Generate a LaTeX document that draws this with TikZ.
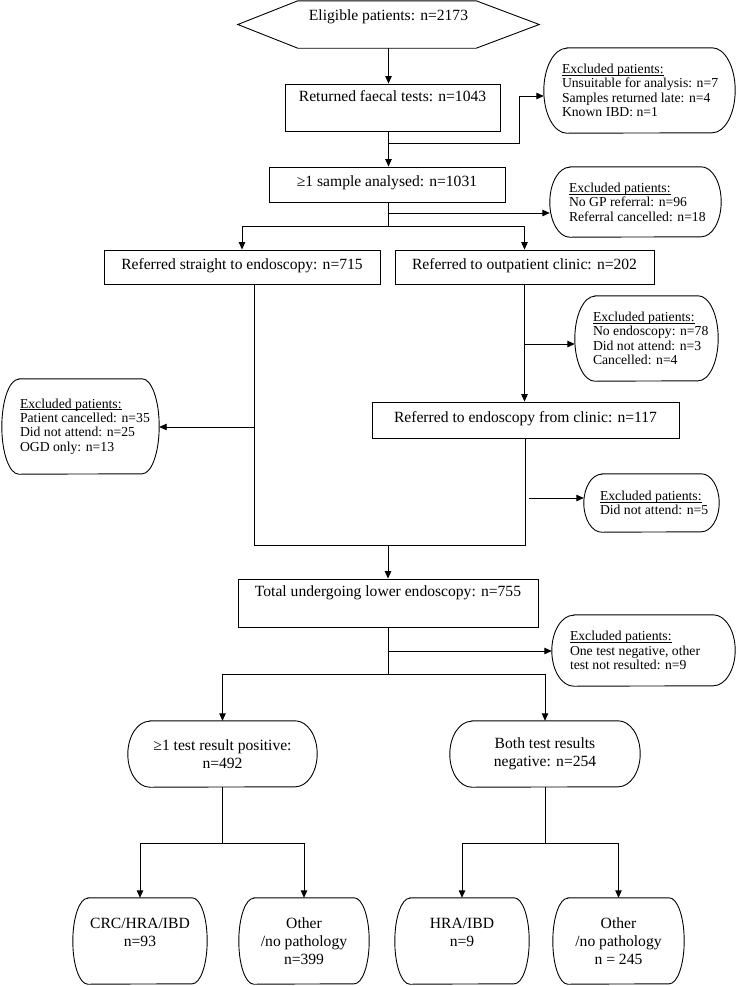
\documentclass[tikz,border=0pt]{standalone}
\usepackage{fontspec}
\setmainfont{Liberation Serif}
\usetikzlibrary{arrows.meta}
\newcommand\pillshape[3]{\draw[line width=0.9pt] ([xshift=#2]#1.north west) -- ([xshift=-#2]#1.north east)
  arc[start angle=90,end angle=-90,x radius=#2,y radius=#3]
  -- ([xshift=#2]#1.south west)
  arc[start angle=270,end angle=90,x radius=#2,y radius=#3] -- cycle;}
\newcommand\exclul[1]{\setbox0\hbox{#1}\rlap{\rule[-1.8pt]{\wd0}{0.55pt}}\box0}
\begin{document}
\begin{tikzpicture}[x=1pt,y=-1pt,
  every node/.style={font=\fontsize{15.6}{18}\selectfont, inner sep=0pt},
  rectbox/.style={draw, line width=0.9pt},
  frame/.style={draw=none},
  excltext/.style={font=\fontsize{13.7}{14.4}\selectfont, align=left, anchor=west},
  pilltext/.style={align=center},
  line/.style={line width=0.9pt},
  arr/.style={line width=0.9pt, -{Triangle[length=7.5pt,width=6.5pt]}}]
\useasboundingbox (0,0) rectangle (737,986);
\fill[white] (0,0) rectangle (737,986);

% hexagon
\node[frame, minimum width=301pt, minimum height=47pt, text height=19pt, text depth=28pt] (hex) at (388.5,24.5) {Eligible patients: n=2173};
\draw[line] (hex.west) -- ([xshift=60pt]hex.north west) -- ([xshift=-63pt]hex.north east) -- (hex.east)
  -- ([xshift=-63pt]hex.south east) -- ([xshift=60pt]hex.south west) -- cycle;

% rectangular boxes
\node[rectbox, minimum width=215pt, minimum height=47pt, text height=17pt, text depth=30pt] (ret) at (392.5,107.5) {Returned faecal tests: n=1043};
\node[rectbox, minimum width=236pt, minimum height=35pt, text height=12pt, text depth=8pt] (s1) at (387,184.5) {≥1 sample analysed: n=1031};
\node[rectbox, minimum width=276pt, minimum height=34pt, text height=12pt, text depth=8pt] (r1) at (242,267) {Referred straight to endoscopy: n=715};
\node[rectbox, minimum width=259pt, minimum height=34pt, text height=12pt, text depth=8pt] (r2) at (524.5,267) {Referred to outpatient clinic: n=202};
\node[rectbox, minimum width=307pt, minimum height=36pt, text height=12pt, text depth=8pt] (c1) at (525.5,420) {Referred to endoscopy from clinic: n=117};
\node[rectbox, minimum width=300pt, minimum height=48pt, text height=17pt, text depth=31pt] (tot) at (388,603) {Total undergoing lower endoscopy: n=755};

% excluded boxes
\node[frame, minimum width=191pt, minimum height=85pt] (x1) at (639.5,90.5) {};
\pillshape{x1}{23pt}{42.5pt}
\node[excltext] (x1t) at ([xshift=18pt]x1.west) {\exclul{Excluded patients:}\\Unsuitable for analysis: n=7\\Samples returned late: n=4\\Known IBD: n=1};

\node[frame, minimum width=171pt, minimum height=70pt] (x2) at (635.5,202) {};
\pillshape{x2}{20pt}{35pt}
\node[excltext] (x2t) at ([xshift=19pt]x2.west) {\exclul{Excluded patients:}\\No GP referral: n=96\\Referral cancelled: n=18};

\node[frame, minimum width=157pt, minimum height=95pt] (x3) at (80.5,426.5) {};
\pillshape{x3}{17pt}{47.5pt}
\node[excltext] (x3t) at ([xshift=18pt]x3.west) {\exclul{Excluded patients:}\\Patient cancelled: n=35\\Did not attend: n=25\\OGD only: n=13};

\node[frame, minimum width=143pt, minimum height=85pt] (x4) at (646.5,338.5) {};
\pillshape{x4}{20pt}{42.5pt}
\node[excltext] (x4t) at ([xshift=18pt]x4.west) {\exclul{Excluded patients:}\\No endoscopy: n=78\\Did not attend: n=3\\Cancelled: n=4};

\node[frame, minimum width=135pt, minimum height=58pt] (x5) at (651.5,503) {};
\pillshape{x5}{18pt}{29pt}
\node[excltext] (x5t) at ([xshift=16pt]x5.west) {\exclul{Excluded patients:}\\Did not attend: n=5};

\node[frame, minimum width=183pt, minimum height=71pt] (x6) at (643.5,650.5) {};
\pillshape{x6}{22pt}{35.5pt}
\node[excltext] (x6t) at ([xshift=18pt]x6.west) {\exclul{Excluded patients:}\\One test negative, other\\test not resulted: n=9};

% result pills
\node[frame, pilltext, minimum width=189pt, minimum height=66pt] (p1) at (222.5,754) {≥1 test result positive:\\n=492};
\pillshape{p1}{22pt}{33pt}
\node[frame, pilltext, minimum width=190pt, minimum height=66pt] (p2) at (545,754) {Both test results\\negative: n=254};
\pillshape{p2}{22pt}{33pt}

% outcome boxes
\node[frame, pilltext, minimum width=134pt, minimum height=86pt] (o1) at (140,941) {CRC/HRA/IBD\\n=93\\\mbox{}};
\pillshape{o1}{15pt}{43pt}
\node[frame, pilltext, minimum width=130pt, minimum height=86pt] (o2) at (304,941) {Other\\/no pathology\\n=399};
\pillshape{o2}{15pt}{43pt}
\node[frame, pilltext, minimum width=134pt, minimum height=86pt] (o3) at (462,941) {HRA/IBD\\n=9\\\mbox{}};
\pillshape{o3}{15pt}{43pt}
\node[frame, pilltext, minimum width=131pt, minimum height=86pt] (o4) at (618.5,941) {Other\\/no pathology\\n = 245};
\pillshape{o4}{15pt}{43pt}

% junction coordinates
\coordinate (j1) at (388.5,143);
\coordinate (k1) at (519,96);
\coordinate (b1) at (388.5,226);
\coordinate (j2) at (388.5,213);
\coordinate (v1) at (254,545);
\coordinate (v2) at (525,545);
\coordinate (j3) at (254,427);
\coordinate (j4) at (524.5,344);
\coordinate (j5) at (529,498);
\coordinate (m1) at (388,545);
\coordinate (b2) at (388,674);
\coordinate (j6) at (388,651);
\coordinate (b3) at (222.5,843);
\coordinate (b4) at (545,843);

% connectors
\draw[arr] (hex.south) -- (hex.south |- ret.north);
\draw[arr] (hex.south |- ret.south) -- (hex.south |- s1.north);
\draw[arr] (j1) -| (k1) -- (k1 -| x1.west);
\draw[line] (hex.south |- s1.south) -- (b1);
\draw[arr] (j2) -- (j2 -| x2.west);
\draw[arr] (b1) -| (r1.north);
\draw[arr] (b1) -| (r2.north);
\draw[line] (v1 |- r1.south) -- (v1) -- (v2) -- (v2 |- c1.south);
\draw[arr] (j3) -- (j3 -| x3.east);
\draw[arr] (r2.south) -- (r2.south |- c1.north);
\draw[arr] (j4) -- (j4 -| x4.west);
\draw[arr] (j5) -- (j5 -| x5.west);
\draw[arr] (m1) -- (tot.north);
\draw[line] (tot.south) -- (b2);
\draw[arr] (j6) -- (j6 -| x6.west);
\draw[arr] (b2) -| (p1.north);
\draw[arr] (b2) -| (p2.north);
\draw[line] (p1.south) -- (b3);
\draw[arr] (b3) -| (o1.north);
\draw[arr] (b3) -| (o2.north);
\draw[line] (p2.south) -- (b4);
\draw[arr] (b4) -| (o3.north);
\draw[arr] (b4) -| (o4.north);
\end{tikzpicture}
\end{document}
